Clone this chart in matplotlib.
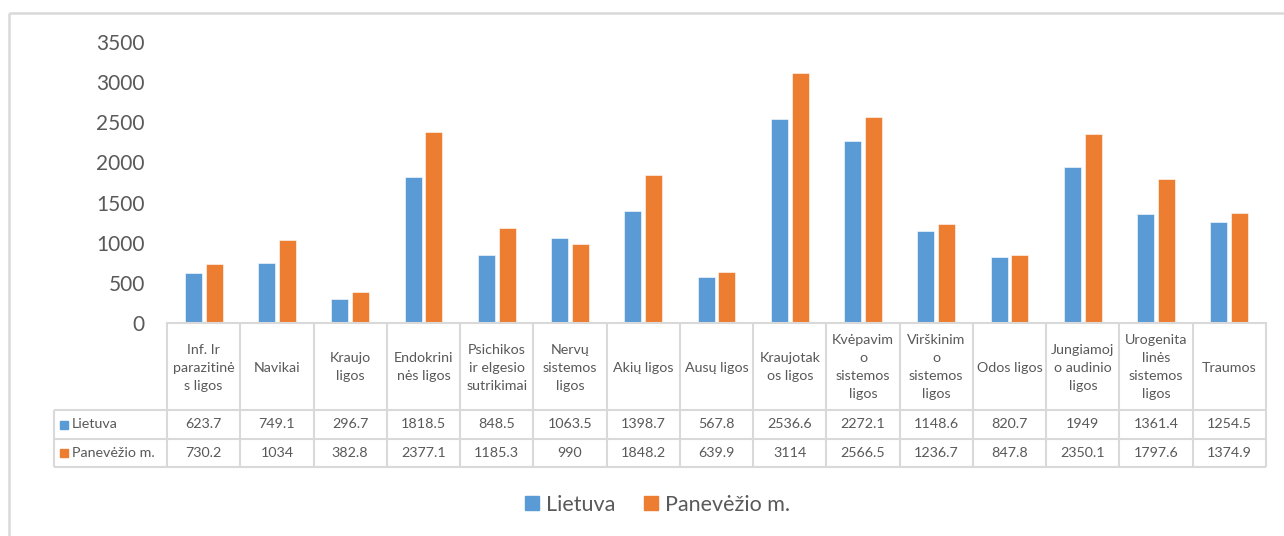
import matplotlib
matplotlib.use("Agg")
import matplotlib.pyplot as plt
from matplotlib.patches import Rectangle
from matplotlib.lines import Line2D

plt.rcParams['font.family'] = ['Lato', 'DejaVu Sans']

categories = ["Inf. Ir\nparazitinė\ns ligos", "Navikai", "Kraujo\nligos", "Endokrini\nnės ligos",
              "Psichikos\nir elgesio\nsutrikimai", "Nervų\nsistemos\nligos", "Akių ligos", "Ausų ligos",
              "Kraujotak\nos ligos", "Kvėpavim\no\nsistemos\nligos", "Virškinim\no\nsistemos\nligos",
              "Odos ligos", "Jungiamoj\no audinio\nligos", "Urogenita\nlinės\nsistemos\nligos", "Traumos"]
lietuva = [623.7, 749.1, 296.7, 1818.5, 848.5, 1063.5, 1398.7, 567.8, 2536.6, 2272.1, 1148.6, 820.7, 1949, 1361.4, 1254.5]
panevezys = [730.2, 1034, 382.8, 2377.1, 1185.3, 990, 1848.2, 639.9, 3114, 2566.5, 1236.7, 847.8, 2350.1, 1797.6, 1374.9]
series_names = ["Lietuva", "Panevėžio m."]
yticks = [0, 500, 1000, 1500, 2000, 2500, 3000, 3500]

BLUE = "#5B9BD5"
ORANGE = "#ED7D31"
GRID = "#D9D9D9"
TXT = "#595959"

W, H = 1284, 536
fig = plt.figure(figsize=(W / 100, H / 100), dpi=100)

# overlay in pixel coordinates
ov = fig.add_axes([0, 0, 1, 1])
ov.set_xlim(0, W)
ov.set_ylim(H, 0)
ov.axis("off")

# chart frame
ov.plot([9, W], [13, 13], color=GRID, lw=1.8, solid_capstyle="butt")
ov.plot([9, 9], [13, H], color=GRID, lw=1.8, solid_capstyle="butt")

# plot axes
x0, x1, ytop, ybot = 167, 1266, 42, 323
ax = fig.add_axes([x0 / W, 1 - ybot / H, (x1 - x0) / W, (ybot - ytop) / H])
ax.patch.set_alpha(0)
n = len(categories)
pos = [i + 0.5 for i in range(n)]
bw = 0.232
ax.bar([p - 0.142 for p in pos], lietuva, width=bw, color=BLUE, edgecolor="white", linewidth=0.4)
ax.bar([p + 0.142 for p in pos], panevezys, width=bw, color=ORANGE, edgecolor="white", linewidth=0.4)
ax.set_xlim(0, n)
ax.set_ylim(0, 3500)
ax.set_yticks(yticks)
ax.set_yticklabels([str(t) for t in yticks], fontsize=15, color=TXT)
ax.tick_params(axis="y", length=0, pad=16)
ax.set_xticks([])
for s in ["top", "right", "left"]:
    ax.spines[s].set_visible(False)
ax.spines["bottom"].set_color(GRID)
ax.spines["bottom"].set_linewidth(1.5)

# data table
cw = (x1 - x0) / n
tl = 54
r0, r1, r2, r3 = ybot, 410, 439, 467
lk = dict(color=GRID, lw=1.5, solid_capstyle="butt")
for i in range(n + 1):
    xx = x0 + i * cw
    ov.plot([xx, xx], [r0, r3], **lk)
for yy in [r1, r2, r3]:
    ov.plot([tl, x1], [yy, yy], **lk)
ov.plot([tl, tl], [r1, r3], **lk)

for i, cat in enumerate(categories):
    cx = x0 + (i + 0.5) * cw
    ov.text(cx, (r0 + r1) / 2 + 1, cat, ha="center", va="center", fontsize=10.3, color=TXT,
            linespacing=1.6, multialignment="center")
    ov.text(cx, (r1 + r2) / 2, f"{lietuva[i]:g}", ha="center", va="center", fontsize=10.3, color=TXT)
    ov.text(cx, (r2 + r3) / 2, f"{panevezys[i]:g}", ha="center", va="center", fontsize=10.3, color=TXT)

for (ya, yb), name, col in [((r1, r2), series_names[0], BLUE), ((r2, r3), series_names[1], ORANGE)]:
    yc = (ya + yb) / 2
    ov.add_patch(Rectangle((60, yc - 4), 8, 8, color=col))
    ov.text(72, yc, name, ha="left", va="center", fontsize=10.3, color=TXT)

handles = [Line2D([], [], marker="s", linestyle="None", markersize=10, color=BLUE, label=series_names[0]),
           Line2D([], [], marker="s", linestyle="None", markersize=10, color=ORANGE, label=series_names[1])]
fig.legend(handles=handles, loc="center", bbox_to_anchor=(657 / W, 1 - 505 / H), ncol=2,
           frameon=False, fontsize=15.5, labelcolor=TXT, handlelength=0.7,
           handletextpad=0.3, columnspacing=1.3)

fig.savefig("out.png", dpi=100)
